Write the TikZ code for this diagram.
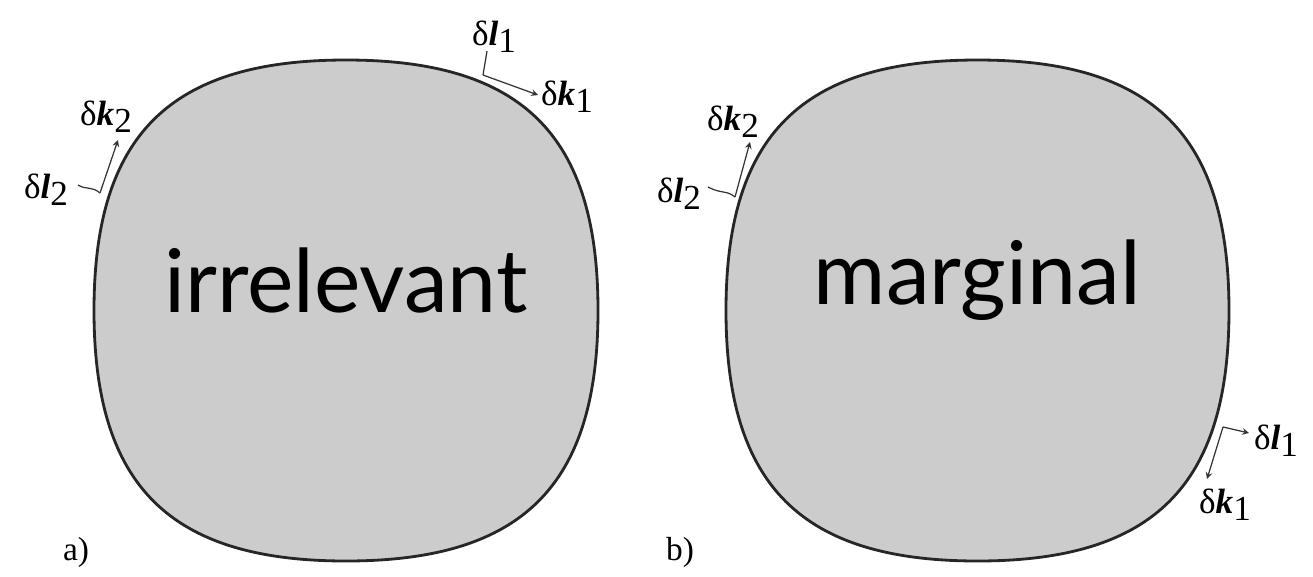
\documentclass[tikz,border=0pt]{standalone}
\usepackage{fontspec}
\setmainfont{Liberation Serif}
\newfontfamily\bigfont{Lato}
\usepackage{xcolor}
\usetikzlibrary{positioning, arrows}

\definecolor{blobgray}{RGB}{204,204,204}

% delta with bold italic letter and index
\newcommand{\dvar}[2]{δ\textbf{\textit{#1}}\raisebox{-0.45ex}{#2}}

% rounded square (superellipse like), centre (#1,#2), half sides #3,#4
\newcommand{\blob}[4]{
  \filldraw [blobline] (#1+#3,#2)
    .. controls (#1+#3,#2+0.70*#4) and (#1+0.70*#3,#2+#4) .. (#1,#2+#4)
    .. controls (#1-0.70*#3,#2+#4) and (#1-#3,#2+0.70*#4) .. (#1-#3,#2)
    .. controls (#1-#3,#2-0.70*#4) and (#1-0.70*#3,#2-#4) .. (#1,#2-#4)
    .. controls (#1+0.70*#3,#2-#4) and (#1+#3,#2-0.70*#4) .. cycle;
}

\begin{document}
\begin{tikzpicture}[x=0.02cm, y=-0.02cm, >=stealth,
    blobline/.style={fill=blobgray, draw=black!85, line width=1.6pt},
    vec/.style={line width=0.7pt, black!80},
    lab/.style={inner sep=0pt, font=\fontsize{20}{20}\selectfont},
    word/.style={inner sep=0pt, font=\bigfont\fontsize{50}{50}\selectfont},
    tag/.style={inner sep=0pt, font=\fontsize{19}{19}\selectfont}]
  \useasboundingbox (0,0) rectangle (1313,576);

  \blob{346}{310.5}{252}{250.5}
  \blob{977.5}{310.5}{251.5}{250.5}

  \node (irr) [word] at (346,280) {irrelevant};
  \node (marg) [word] at (977.5,280) {marginal};

  \node (taga) [tag] at (76,552) {a)};
  \node (tagb) [tag] at (680,552) {b)};

  % panel a
  \node (al1) [lab] at (494,37) {\dvar{l}{1}};
  \node (ak1) [lab] at (567,97) {\dvar{k}{1}};
  \node (ak2) [lab] at (106,117) {\dvar{k}{2}};
  \node (al2) [lab] at (46,190) {\dvar{l}{2}};
  \coordinate (ap1) at (483,75);
  \coordinate (ap2) at (100,193);
  \coordinate (an1) at (487,51);
  \coordinate (at1) at (538,95);
  \coordinate (an2) at (78,185);
  \coordinate (at2) at (118,140);
  \draw [vec] (ap1) -- (an1);
  \draw [vec, ->] (ap1) -- (at1);
  \draw [vec] (ap2) .. controls (92,186) and (86,190) .. (an2);
  \draw [vec, ->] (ap2) -- (at2);

  % panel b
  \node (bk2) [lab] at (733,122) {\dvar{k}{2}};
  \node (bl2) [lab] at (679,194) {\dvar{l}{2}};
  \node (bl1) [lab] at (1276,441) {\dvar{l}{1}};
  \node (bk1) [lab] at (1225,505) {\dvar{k}{1}};
  \coordinate (bp2) at (735,197);
  \coordinate (bp1) at (1223,427);
  \coordinate (bn2) at (708,187);
  \coordinate (bt2) at (750,142);
  \coordinate (bn1) at (1249,433);
  \coordinate (bt1) at (1207,479);
  \draw [vec] (bp2) .. controls (727,190) and (721,194) .. (bn2);
  \draw [vec, ->] (bp2) -- (bt2);
  \draw [vec, ->] (bp1) -- (bn1);
  \draw [vec, ->] (bp1) -- (bt1);
\end{tikzpicture}
\end{document}
